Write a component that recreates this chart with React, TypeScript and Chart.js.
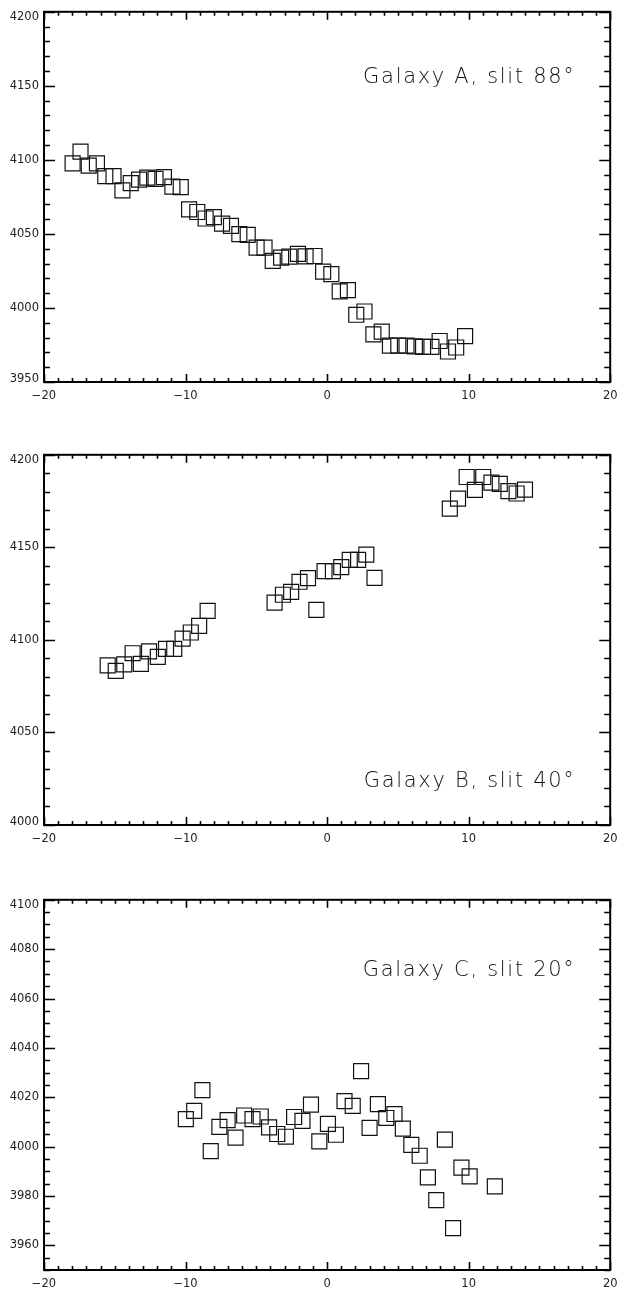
import React, { useEffect, useRef } from "react";
import { Chart, registerables } from "chart.js";
Chart.register(...registerables);

// ---- data ----
const xTickLabels = [-20, -10, 0, 10, 20];

const posA = [-17.98, -17.42, -16.84, -16.26, -15.67, -15.09, -14.46, -13.87, -13.28, -12.7, -12.12, -11.53, -10.93, -10.34, -9.75, -9.17, -8.58, -8.0, -7.42, -6.79, -6.2, -5.61, -4.98, -4.42, -3.84, -3.25, -2.67, -2.06, -1.52, -0.89, -0.28, 0.3, 0.89, 1.47, 2.06, 2.64, 3.27, 3.86, 4.44, 5.03, 5.61, 6.2, 6.78, 7.37, 7.95, 8.54, 9.12, 9.75];
const velA = [4097.6, 4105.6, 4096.1, 4097.7, 4089.0, 4089.0, 4079.4, 4084.3, 4086.7, 4088.0, 4087.2, 4088.3, 4082.0, 4081.6, 4066.6, 4064.8, 4060.4, 4061.3, 4057.0, 4055.4, 4049.9, 4049.4, 4040.7, 4040.7, 4031.8, 4034.0, 4034.7, 4036.5, 4034.9, 4035.1, 4024.6, 4022.9, 4011.2, 4012.1, 3995.4, 3997.6, 3982.2, 3984.0, 3974.6, 3974.6, 3974.6, 3974.1, 3973.7, 3973.7, 3977.7, 3970.6, 3973.3, 3981.0];
const yTicksA = [3950, 4000, 4050, 4100, 4150, 4200];

const posB = [-15.5, -14.93, -14.33, -13.74, -13.16, -12.58, -11.96, -11.38, -10.8, -10.21, -9.63, -9.04, -8.44, -3.71, -3.12, -2.54, -1.95, -1.35, -0.76, -0.18, 0.41, 1.0, 1.6, 2.19, 2.77, 3.35, 8.67, 9.25, 9.86, 10.44, 11.03, 11.61, 12.2, 12.81, 13.39, 13.98];
const velB = [4086.2, 4083.3, 4086.8, 4092.8, 4087.0, 4093.8, 4090.8, 4095.2, 4095.2, 4100.7, 4104.0, 4107.6, 4115.7, 4120.1, 4124.4, 4125.9, 4131.4, 4133.4, 4116.2, 4137.2, 4137.2, 4139.3, 4143.2, 4143.2, 4146.1, 4133.5, 4170.9, 4176.3, 4188.0, 4181.1, 4188.0, 4185.0, 4184.3, 4180.4, 4179.1, 4181.2];
const yTicksB = [4000, 4050, 4100, 4150, 4200];

const posC = [-9.98, -9.39, -8.81, -8.22, -7.61, -7.03, -6.47, -5.86, -5.27, -4.69, -4.1, -3.52, -2.91, -2.33, -1.74, -1.14, -0.55, 0.06, 0.62, 1.23, 1.81, 2.4, 3.0, 3.59, 4.18, 4.76, 5.35, 5.95, 6.54, 7.12, 7.71, 8.32, 8.9, 9.49, 10.07, 11.85];
const velC = [4011.1, 4014.5, 4022.9, 3998.2, 4008.0, 4010.7, 4003.6, 4012.6, 4011.1, 4012.2, 4007.8, 4005.1, 4004.0, 4012.0, 4010.4, 4017.0, 4002.1, 4009.2, 4004.8, 4018.4, 4016.5, 4030.6, 4007.6, 4017.2, 4011.6, 4013.2, 4007.3, 4000.7, 3996.3, 3987.5, 3978.3, 4002.8, 3967.0, 3991.5, 3987.9, 3983.9];
const yTicksC = [3960, 3980, 4000, 4020, 4040, 4060, 4080, 4100];

const labels = ["Galaxy A, slit 88°", "Galaxy B, slit 40°", "Galaxy C, slit 20°"];

type Panel = {
  pos: number[];
  vel: number[];
  yMin: number;
  yMax: number;
  yTicks: number[];
  yMinor: number;
  yMajor: number;
  label: string;
  labelAt: [number, number];
  top: number;
};

const panels: Panel[] = [
  { pos: posA, vel: velA, yMin: 3950, yMax: 4200, yTicks: yTicksA, yMinor: 10, yMajor: 50, label: labels[0], labelAt: [17.55, 4152], top: 0 },
  { pos: posB, vel: velB, yMin: 4000, yMax: 4200, yTicks: yTicksB, yMinor: 10, yMajor: 50, label: labels[1], labelAt: [17.55, 4020.4], top: 443 },
  { pos: posC, vel: velC, yMin: 3950, yMax: 4100, yTicks: yTicksC, yMinor: 5, yMajor: 20, label: labels[2], labelAt: [17.55, 4069.2], top: 888 },
];

const CW = 622;
const CH = 406;
const TICK_FONT = "11.5px 'DejaVu Sans'";

const idlFrame = {
  id: "idlFrame",
  afterDraw(chart: any, _args: any, opts: any) {
    const { ctx, chartArea: a, scales } = chart;
    const xs = scales.x;
    const ys = scales.y;
    ctx.save();
    ctx.strokeStyle = "#000";
    ctx.lineWidth = 1.6;
    ctx.beginPath();
    const isMult = (v: number, m: number) => Math.abs(v / m - Math.round(v / m)) < 1e-6;
    for (let i = 0; ; i++) {
      const v = xs.min + i * opts.xMinor;
      if (v > xs.max + 1e-9) break;
      const px = Math.round(xs.getPixelForValue(v)) + 0.5;
      const len = isMult(v, opts.xMajor) ? 8 : 4;
      ctx.moveTo(px, a.bottom);
      ctx.lineTo(px, a.bottom - len);
      ctx.moveTo(px, a.top);
      ctx.lineTo(px, a.top + len);
    }
    for (let i = 0; ; i++) {
      const v = ys.min + i * opts.yMinor;
      if (v > ys.max + 1e-9) break;
      const py = Math.round(ys.getPixelForValue(v)) + 0.5;
      const len = isMult(v, opts.yMajor) ? 11 : 6;
      ctx.moveTo(a.left, py);
      ctx.lineTo(a.left + len, py);
      ctx.moveTo(a.right, py);
      ctx.lineTo(a.right - len, py);
    }
    ctx.stroke();
    ctx.lineWidth = 2;
    ctx.strokeRect(a.left, a.top, a.right - a.left, a.bottom - a.top);

    // y tick labels (end labels kept inside the axis span)
    ctx.fillStyle = "#222";
    ctx.font = TICK_FONT;
    ctx.textAlign = "right";
    (opts.yTicks as number[]).forEach((v) => {
      const py = ys.getPixelForValue(v);
      if (Math.abs(v - ys.max) < 1e-9) {
        ctx.textBaseline = "top";
        ctx.fillText(String(v), a.left - 5, py - 1);
      } else if (Math.abs(v - ys.min) < 1e-9) {
        ctx.textBaseline = "alphabetic";
        ctx.fillText(String(v), a.left - 5, py);
      } else {
        ctx.textBaseline = "middle";
        ctx.fillText(String(v), a.left - 5, py);
      }
    });

    // annotation
    ctx.fillStyle = "#111";
    ctx.font = "200 21px 'DejaVu Sans'";
    (ctx as any).letterSpacing = "1.7px";
    ctx.textAlign = "right";
    ctx.textBaseline = "alphabetic";
    ctx.fillText(opts.label, xs.getPixelForValue(opts.labelAt[0]), ys.getPixelForValue(opts.labelAt[1]));
    ctx.restore();
  },
};

function PanelChart({ p }: { p: Panel }) {
  const ref = useRef<HTMLCanvasElement | null>(null);
  useEffect(() => {
    if (!ref.current) return;
    const data = p.pos.map((x, i) => ({ x, y: p.vel[i] }));
    const tickFont = { family: "'DejaVu Sans'", size: 11.5 };
    const chart = new Chart(ref.current, {
      type: "scatter",
      data: {
        datasets: [
          {
            data,
            pointStyle: "rect",
            pointRadius: 10.6,
            pointHoverRadius: 10.6,
            borderColor: "#111",
            borderWidth: 1.2,
            backgroundColor: "rgba(0,0,0,0)",
            showLine: false,
          },
        ],
      },
      options: {
        responsive: false,
        animation: false,
        devicePixelRatio: 1,
        events: [],
        layout: { padding: { top: 9, right: 8, left: 0, bottom: 0 } },
        plugins: {
          legend: { display: false },
          tooltip: { enabled: false },
          idlFrame: {
            xMinor: 1,
            xMajor: 10,
            yMinor: p.yMinor,
            yMajor: p.yMajor,
            yTicks: p.yTicks,
            label: p.label,
            labelAt: p.labelAt,
          },
        } as any,
        scales: {
          x: {
            type: "linear",
            min: -20,
            max: 20,
            afterBuildTicks: (s: any) => {
              s.ticks = xTickLabels.map((v) => ({ value: v }));
            },
            afterFit: (s: any) => {
              s.height = 24;
              s.paddingLeft = 0;
              s.paddingRight = 0;
            },
            grid: { display: false, drawTicks: false },
            border: { display: false },
            ticks: {
              autoSkip: false,
              maxRotation: 0,
              padding: 7,
              font: tickFont,
              color: "#222",
              callback: (v: any) => String(v).replace("-", "\u2212"),
            },
          },
          y: {
            type: "linear",
            min: p.yMin,
            max: p.yMax,
            afterBuildTicks: (s: any) => {
              s.ticks = p.yTicks.map((v) => ({ value: v }));
            },
            afterFit: (s: any) => {
              s.width = 44;
              s.paddingTop = 0;
              s.paddingBottom = 0;
            },
            grid: { display: false, drawTicks: false },
            border: { display: false },
            ticks: { display: false },
          },
        },
      },
      plugins: [idlFrame],
    } as any);
    return () => chart.destroy();
  }, [p]);
  return (
    <canvas
      ref={ref}
      width={CW}
      height={CH}
      style={{ position: "absolute", left: 0, top: p.top, width: CW, height: CH, display: "block" }}
    />
  );
}

export default function App() {
  return (
    <div style={{ position: "absolute", left: 0, top: 0, width: CW, height: 1294, background: "#fff", overflow: "hidden" }}>
      {panels.map((p, i) => (
        <PanelChart key={i} p={p} />
      ))}
    </div>
  );
}
